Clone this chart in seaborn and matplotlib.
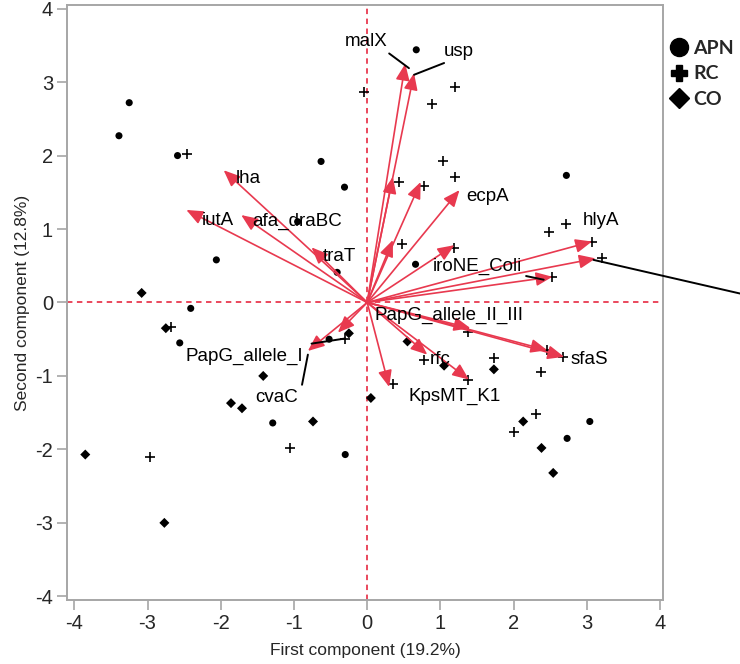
import numpy as np
import pandas as pd
import matplotlib
matplotlib.use("Agg")
import matplotlib.pyplot as plt
from matplotlib.lines import Line2D
from matplotlib.patches import FancyArrowPatch
import seaborn as sns

# Scores of the isolates, per group
apn_x = [-3.25, -3.39, -2.59, -0.63, -0.31, -0.95, -2.06, -0.41, -2.41, 0.67,
         2.72, 0.66, -2.56, -1.29, -0.30, -0.52, 3.04, 2.73]
apn_y = [2.72, 2.27, 2.00, 1.92, 1.57, 1.10, 0.58, 0.41, -0.08, 3.44,
         1.73, 0.52, -0.55, -1.64, -2.07, -0.50, -1.62, -1.85]

rc_x = [-2.46, -0.05, 1.20, 0.89, 1.03, 1.20, 2.71, 2.48, 3.21, 1.19, 2.53,
        0.44, 0.78, 0.48, -2.68, -1.05, -2.96, -0.31, 0.78, 1.73, 2.38, 0.35,
        1.37, 2.46, 2.67, 1.37, 2.31, 2.00, 3.07]
rc_y = [2.02, 2.87, 2.94, 2.70, 1.92, 1.71, 1.07, 0.96, 0.60, 0.74, 0.35,
        1.64, 1.58, 0.79, -0.33, -1.98, -2.11, -0.50, -0.78, -0.76, -0.95, -1.11,
        -1.05, -0.65, -0.74, -0.40, -1.52, -1.76, 0.83]

co_x = [-3.08, -2.75, -1.42, -1.86, -1.71, -0.74, -3.85, -2.77, -0.25, 0.05,
        0.55, 1.05, 1.73, 2.13, 2.38, 2.54]
co_y = [0.13, -0.35, -1.00, -1.37, -1.44, -1.62, -2.07, -3.00, -0.42, -1.30,
        -0.53, -0.86, -0.91, -1.62, -1.98, -2.32]

# Loadings (arrow tips)
load_x = [-1.96, -2.47, -1.72, -0.76, 0.52, 0.64, 0.35, 0.73, 1.26, 0.35,
          1.19, 3.07, 3.12, 2.53, -0.81, -0.40, 1.41, 2.46, 2.69, 0.82, 1.39, 0.30]
load_y = [1.80, 1.26, 1.19, 0.75, 3.25, 3.12, 1.71, 1.64, 1.53, 0.85,
          0.78, 0.83, 0.60, 0.35, -0.66, -0.41, -0.35, -0.65, -0.74, -0.71, -1.05, -1.15]

# Variable labels
lab_names = ["malX", "usp", "lha", "iutA", "afa_draBC", "traT", "ecpA", "hlyA",
             "iroNE_Coli", "PapG_allele_II_III", "sfaS", "rfc", "KpsMT_K1",
             "PapG_allele_I", "cvaC"]
lab_x = [-0.02, 1.05, -1.79, -2.26, -1.57, -0.61, 1.355, 2.94,
         0.89, 0.10, 2.78, 0.85, 0.57, -2.48, -1.53]
lab_y = [3.55, 3.41, 1.69, 1.12, 1.11, 0.62, 1.44, 1.12,
         0.49, -0.17, -0.77, -0.78, -1.28, -0.74, -1.30]

# Leader lines from labels to arrows
lead_x0 = [0.30, 1.05, 2.17, -0.76, -0.89, 3.09]
lead_y0 = [3.39, 3.26, 0.36, -0.56, -1.12, 0.58]
lead_x1 = [0.57, 0.64, 2.41, -0.30, -0.81, 5.10]
lead_y1 = [3.19, 3.10, 0.31, -0.49, -0.71, 0.12]

red = "#e8394f"

sns.set_style("white")
plt.rcParams["font.family"] = ["Liberation Sans", "DejaVu Sans"]
plt.rcParams["axes.unicode_minus"] = False

fig = plt.figure(figsize=(7.4, 6.64), dpi=100)
ax = fig.add_axes([0.0905, 0.0964, 0.8055, 0.8961])

sns.scatterplot(x=apn_x, y=apn_y, marker="o", s=26, color="black",
                edgecolor="none", ax=ax, zorder=3)
sns.scatterplot(x=rc_x, y=rc_y, marker="+", s=55, color="black",
                linewidth=1.2, ax=ax, zorder=3)
sns.scatterplot(x=co_x, y=co_y, marker="D", s=26, color="black",
                edgecolor="none", ax=ax, zorder=3)

ax.axhline(0, color=red, lw=1.3, ls=(0, (3, 2.5)), zorder=2)
ax.axvline(0, color=red, lw=1.3, ls=(0, (3, 2.5)), zorder=2)

for tx, ty in zip(load_x, load_y):
    arr = FancyArrowPatch((0, 0), (tx, ty),
                          arrowstyle="-|>,head_length=1.0,head_width=0.42",
                          mutation_scale=10, color=red, lw=1.2,
                          shrinkA=0, shrinkB=0, zorder=4)
    ax.add_patch(arr)

for x0, y0, x1, y1 in zip(lead_x0, lead_y0, lead_x1, lead_y1):
    ax.plot([x0, x1], [y0, y1], color="black", lw=1.4, zorder=5, clip_on=False)

for name, tx, ty in zip(lab_names, lab_x, lab_y):
    ha = "center" if name == "malX" else "left"
    ax.text(tx, ty, name, ha=ha, va="center", fontsize=13.5, color="black", zorder=6)

ax.set_xlim(-4.1, 4.04)
ax.set_ylim(-4.05, 4.05)
ax.set_xticks(range(-4, 5))
ax.set_yticks(range(-4, 5))
for sp in ax.spines.values():
    sp.set_color("#a6a6a6")
    sp.set_linewidth(1.4)
ax.tick_params(axis="both", direction="out", length=7, width=1.2,
               color="#a6a6a6", labelsize=14.5, pad=3, bottom=True, left=True)
ax.get_xticklines()[8].set_color(red)

ax.set_xlabel("First component (19.2%)", fontsize=12.5, labelpad=7)
ax.set_ylabel("Second component (12.8%)", fontsize=12.5, labelpad=4)

handles = [Line2D([0], [0], marker="o", ls="none", color="black", markersize=13),
           Line2D([0], [0], marker="P", ls="none", color="black", markersize=11.5),
           Line2D([0], [0], marker="D", ls="none", color="black", markersize=10.5)]
fig.legend(handles, ["APN", "RC", "CO"], loc="upper left",
           bbox_to_anchor=(0.897, 0.952), frameon=False, handlelength=0.8,
           handletextpad=0.3, labelspacing=0.45, borderaxespad=0,
           prop={"family": ["Lato", "DejaVu Sans"], "weight": "bold", "size": 14})

fig.savefig("out.png", dpi=100)
